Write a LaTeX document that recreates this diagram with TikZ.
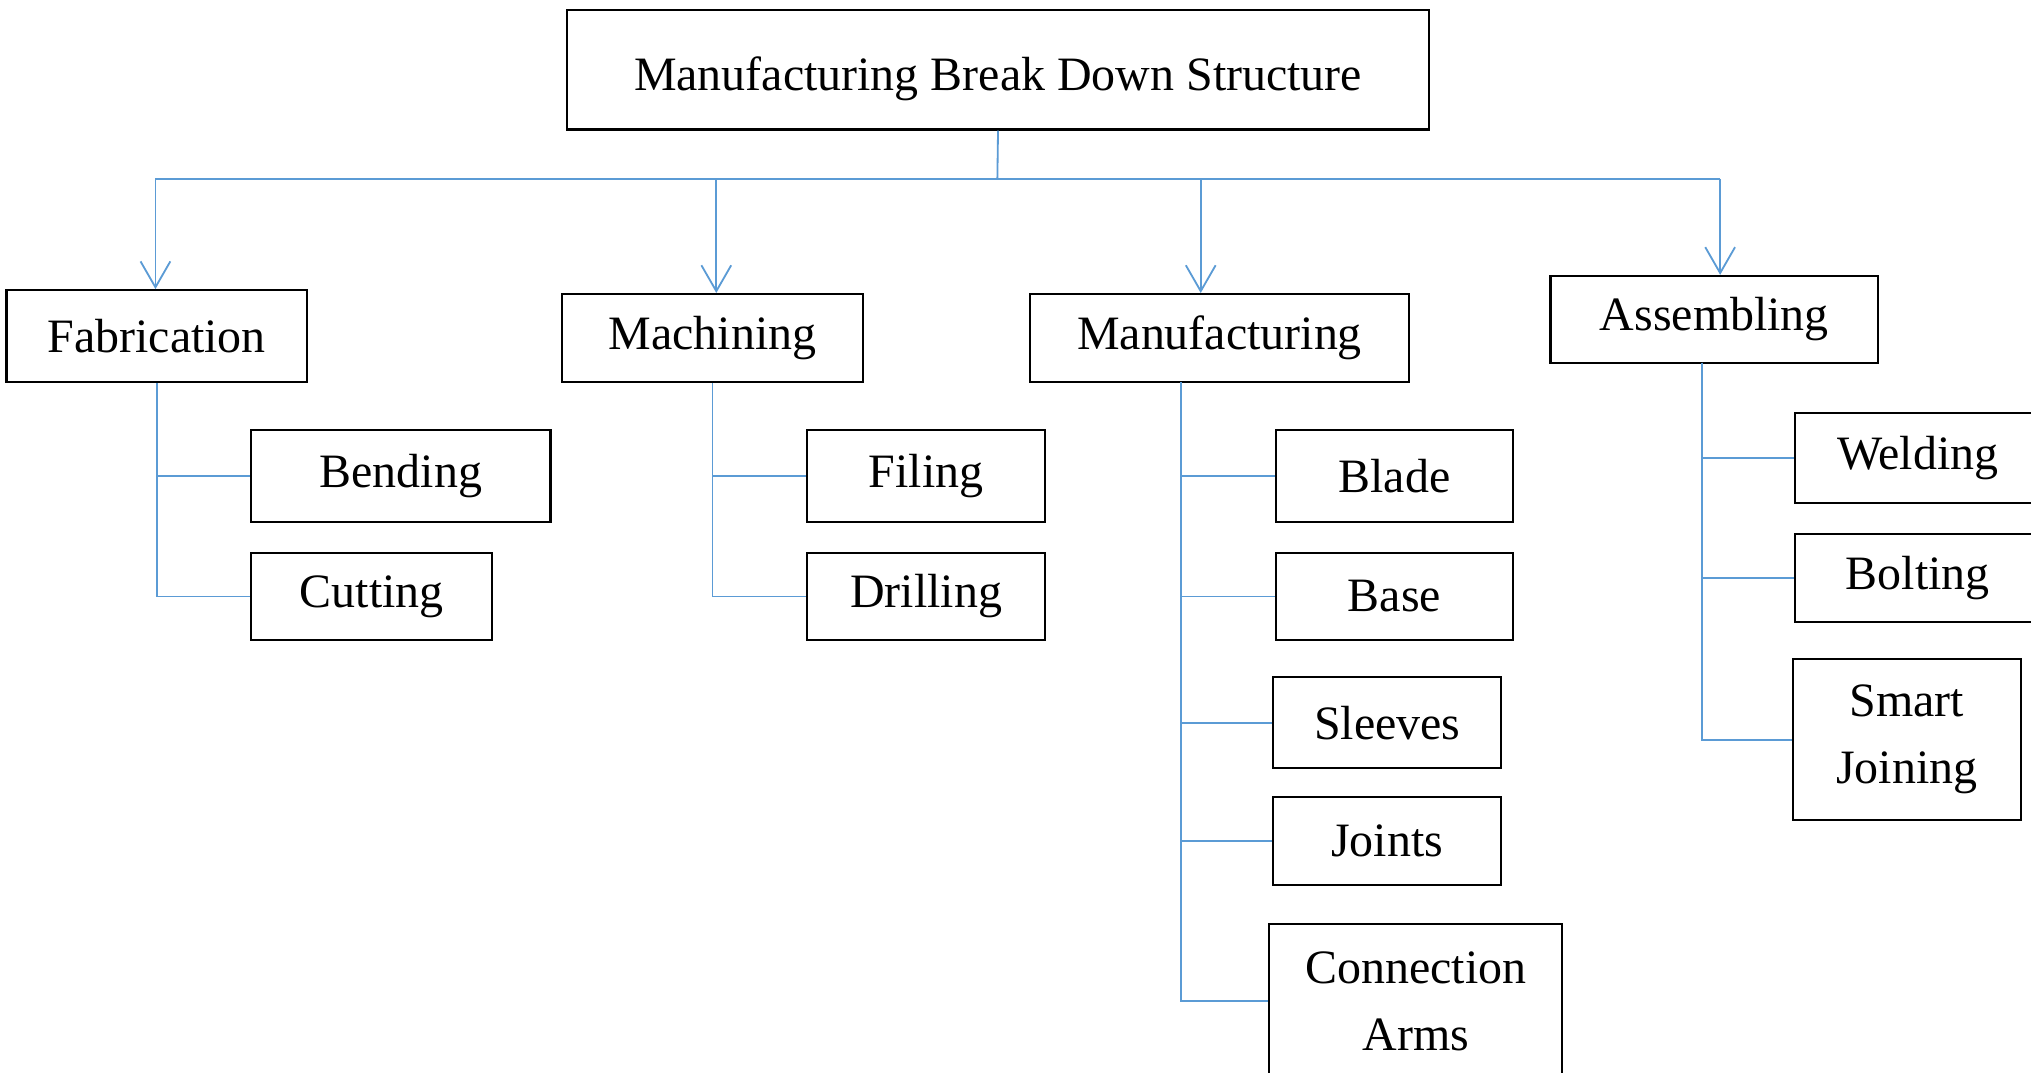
\documentclass[tikz,border=0pt]{standalone}
\usepackage{fontspec}
\setmainfont{Liberation Serif}
\usetikzlibrary{arrows.meta}
\definecolor{linkblue}{HTML}{5B9BD5}
\tikzset{
  box/.style={draw=black, line width=1.6pt, inner sep=0pt, align=center,
    font=\fontsize{37}{52}\selectfont},
  conn/.style={draw=linkblue, line width=1.4pt},
  arr/.style={conn, -{Straight Barb[length=20pt,width=23pt]}},
}
\begin{document}
\begin{tikzpicture}[x=1pt,y=-1pt]
\fill[white] (0,0) rectangle (1568,828);
\useasboundingbox (0,0) rectangle (1568,828);

% level 1
\node[box, minimum width=665pt, minimum height=92pt] (top) at (770.5,54) {\raisebox{-7pt}[\height][\depth]{Manufacturing Break Down Structure}};

% level 2
\node[box, minimum width=232pt, minimum height=71pt] (fab)  at (121,259.5)   {Fabrication};
\node[box, minimum width=232pt, minimum height=68pt] (mach) at (550,261)     {Machining};
\node[box, minimum width=293pt, minimum height=68pt] (manu) at (941.5,261)   {Manufacturing};
\node[box, minimum width=253pt, minimum height=67pt] (asm)  at (1323.5,246.5){Assembling};

% level 3 - fabrication
\node[box, minimum width=231pt, minimum height=71pt] (bend) at (309.5,367.5) {Bending};
\node[box, minimum width=186pt, minimum height=67pt] (cut)  at (287,460.5)   {Cutting};
% machining
\node[box, minimum width=184pt, minimum height=71pt] (fil)  at (715,367.5)   {Filing};
\node[box, minimum width=184pt, minimum height=67pt] (dri)  at (715,460.5)   {Drilling};
% manufacturing
\node[box, minimum width=183pt, minimum height=71pt] (bla)  at (1076.5,367.5){Blade};
\node[box, minimum width=183pt, minimum height=67pt] (bas)  at (1076.5,460.5){Base};
\node[box, minimum width=176pt, minimum height=70pt] (sle)  at (1071,558)    {Sleeves};
\node[box, minimum width=176pt, minimum height=68pt] (joi)  at (1071,649)    {Joints};
\node[box, minimum width=226pt, minimum height=120pt] (con) at (1093,773)    {Connection\\Arms};
% assembling
\node[box, minimum width=189pt, minimum height=69pt] (wel)  at (1480.5,353.5){Welding};
\node[box, minimum width=189pt, minimum height=68pt] (bol)  at (1480.5,446)  {Bolting};
\node[box, minimum width=176pt, minimum height=124pt] (sma) at (1472,571)    {Smart\\Joining};

% bus
\coordinate (b0) at (770,138);
\coordinate (b1) at (120,138);
\coordinate (b2) at (553,138);
\coordinate (b3) at (927,138);
\coordinate (b4) at (1328,138);
\draw[conn] (top.south) -- (b0);
\draw[conn] (b1) -- (b4);
\draw[arr] (b1) -- (b1 |- fab.north);
\draw[arr] (b2) -- (b2 |- mach.north);
\draw[arr] (b3) -- (b3 |- manu.north);
\draw[arr] (b4) -- (b4 |- asm.north);

% trunks
\draw[conn] (fab.south) |- (bend.west);
\draw[conn] (fab.south) |- (cut.west);
\draw[conn] (mach.south) |- (fil.west);
\draw[conn] (mach.south) |- (dri.west);
\coordinate (mt) at (912,295);
\draw[conn] (mt) |- (bla.west);
\draw[conn] (mt) |- (bas.west);
\draw[conn] (mt) |- (sle.west);
\draw[conn] (mt) |- (joi.west);
\draw[conn] (mt) |- (con.west);
\coordinate (at) at (1314,280);
\draw[conn] (at) |- (wel.west);
\draw[conn] (at) |- (bol.west);
\draw[conn] (at) |- (sma.west);
\end{tikzpicture}
\end{document}
